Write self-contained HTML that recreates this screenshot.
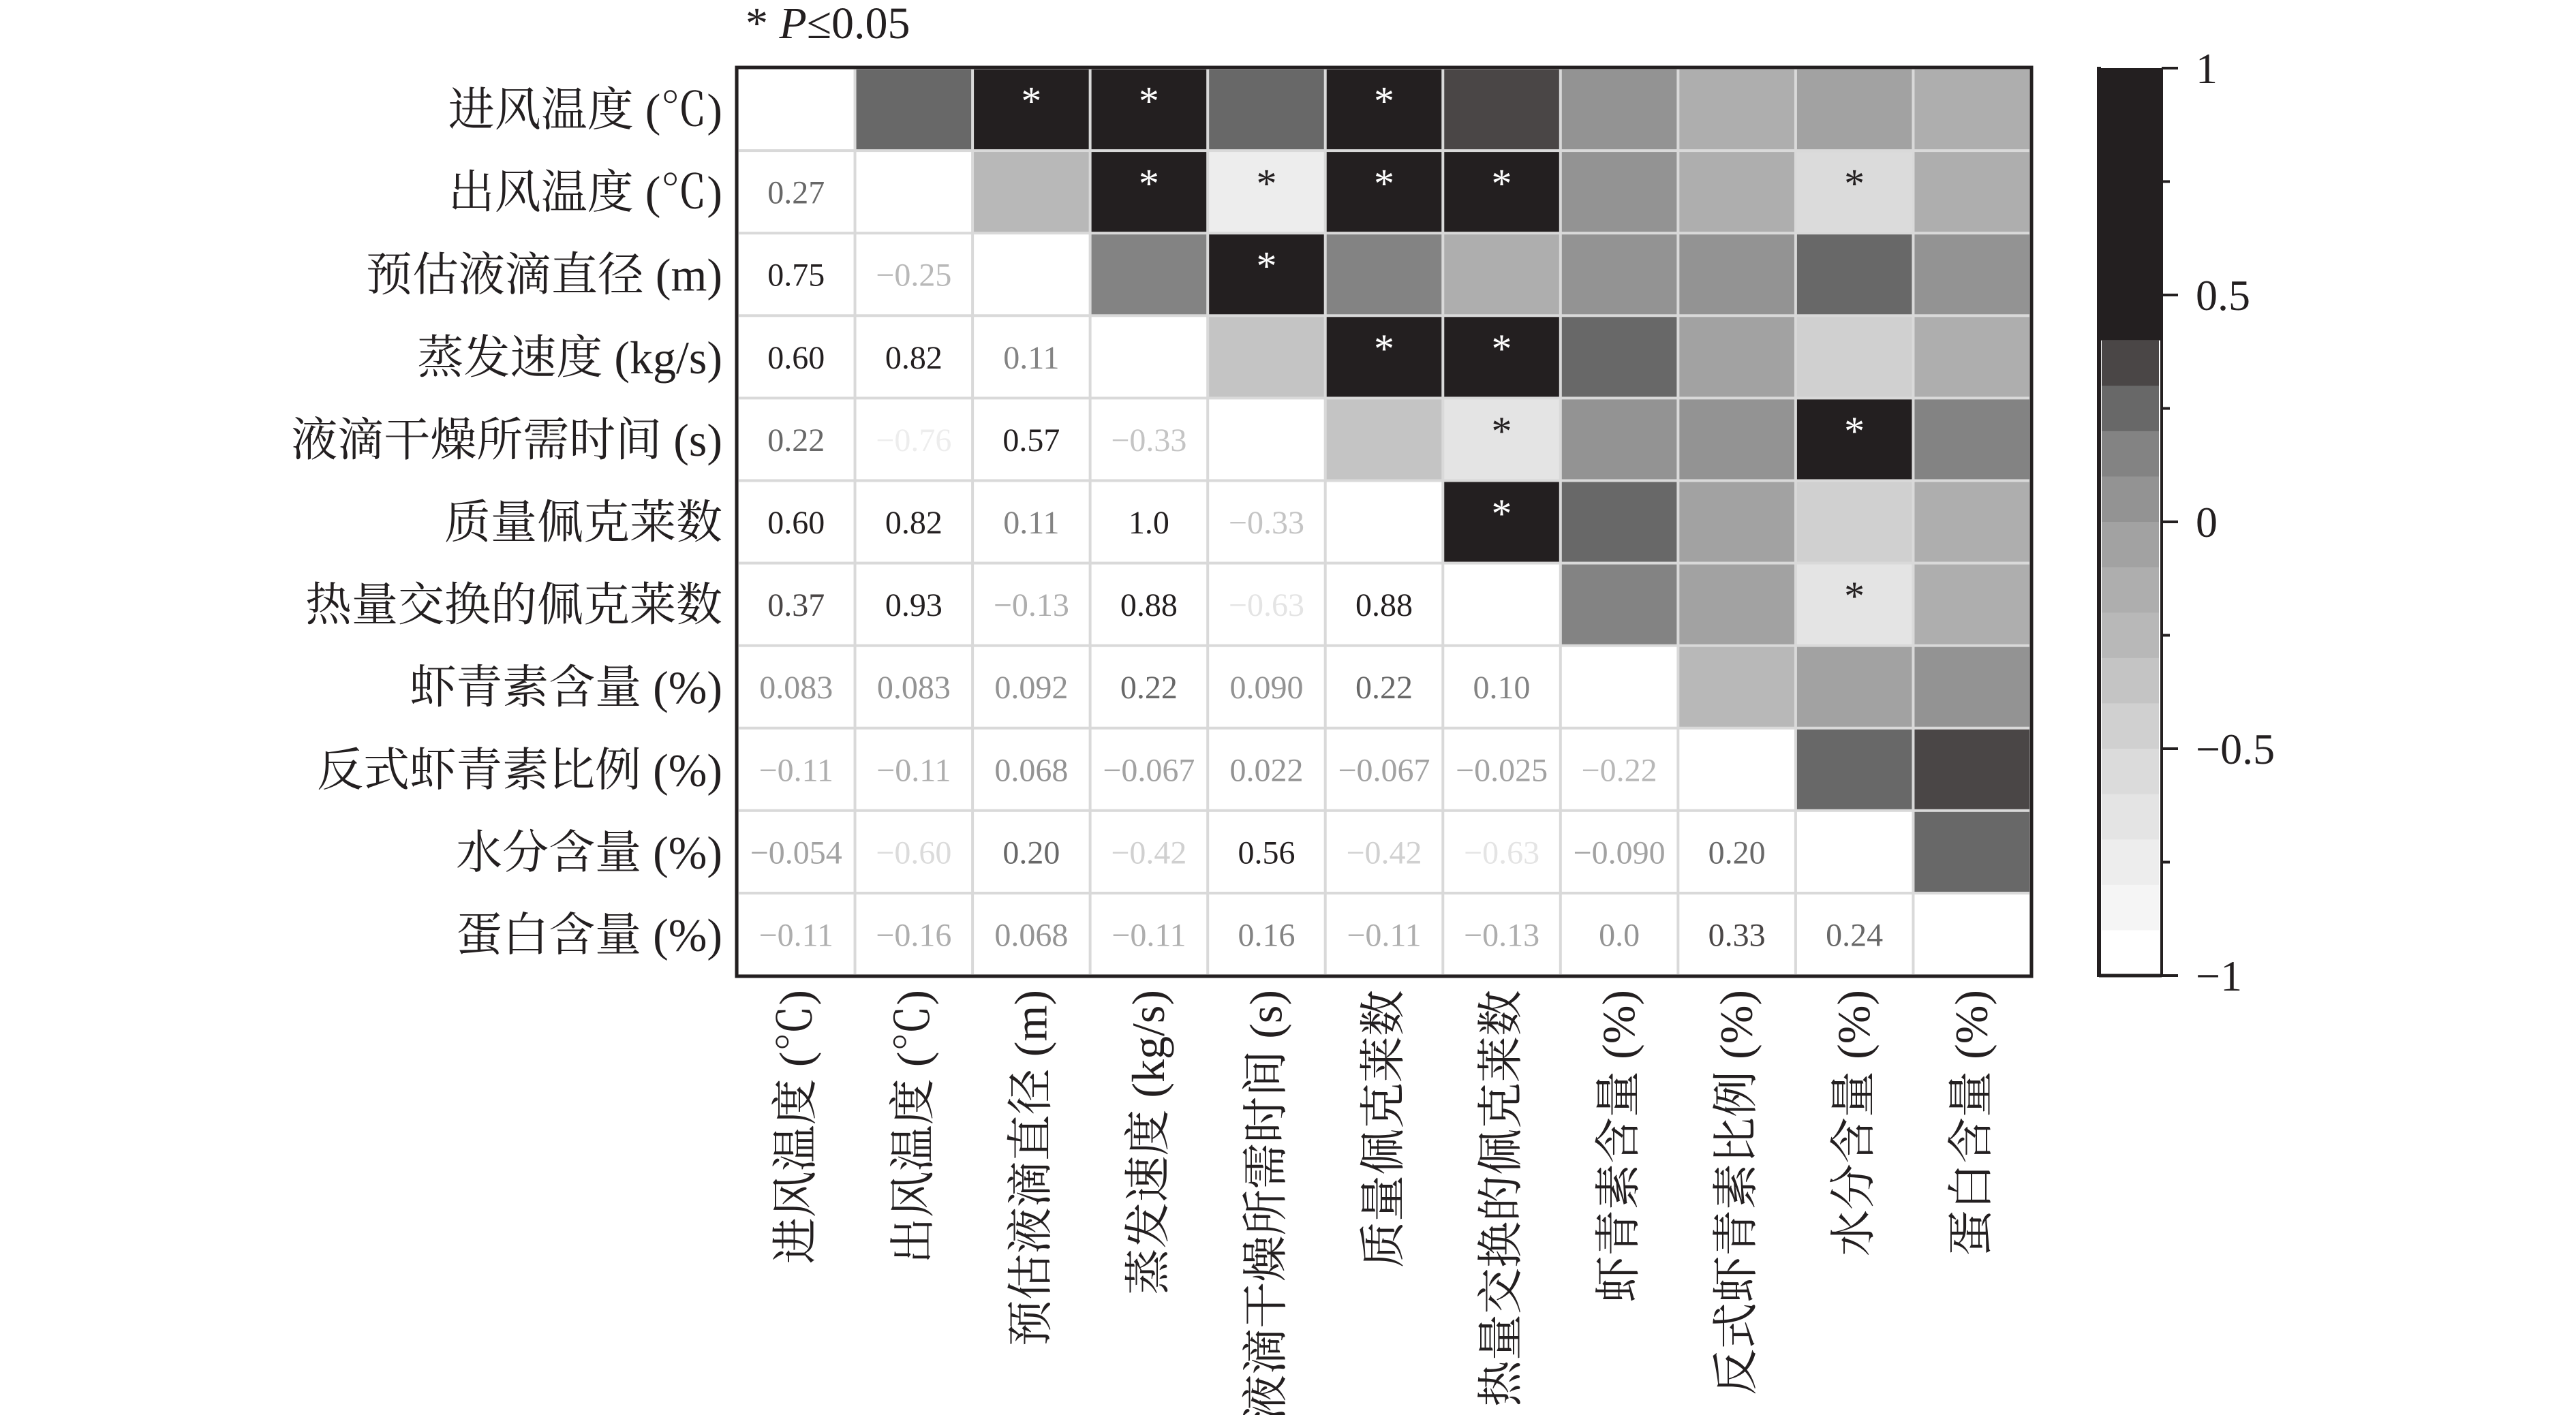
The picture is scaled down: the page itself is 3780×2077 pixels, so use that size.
<!DOCTYPE html>
<html><head><meta charset="utf-8"><style>
html,body{margin:0;padding:0;background:#fff;}
svg{display:block;}
text{font-family:"Liberation Serif","Noto Serif CJK SC",serif;}
</style></head><body>
<svg id="chart" width="3780" height="2077" viewBox="0 0 3780 2077" xmlns="http://www.w3.org/2000/svg">
<text x="1094" y="56" font-size="66" fill="#231f20">* <tspan font-style="italic">P</tspan>≤0.05</text>
<g id="cells"></g>
<g id="labels"></g>
<g id="cbar"></g>
</svg>
<script>
const labels = ["进风温度 (℃)","出风温度 (℃)","预估液滴直径 (m)","蒸发速度 (kg/s)","液滴干燥所需时间 (s)","质量佩克莱数","热量交换的佩克莱数","虾青素含量 (%)","反式虾青素比例 (%)","水分含量 (%)","蛋白含量 (%)"];
const lowerValues = [
  [],
  [0.27],
  [0.75,-0.25],
  [0.60,0.82,0.11],
  [0.22,-0.76,0.57,-0.33],
  [0.60,0.82,0.11,1.0,-0.33],
  [0.37,0.93,-0.13,0.88,-0.63,0.88],
  [0.083,0.083,0.092,0.22,0.090,0.22,0.10],
  [-0.11,-0.11,0.068,-0.067,0.022,-0.067,-0.025,-0.22],
  [-0.054,-0.60,0.20,-0.42,0.56,-0.42,-0.63,-0.090,0.20],
  [-0.11,-0.16,0.068,-0.11,0.16,-0.11,-0.13,0.0,0.33,0.24]
];
const valueText = [
  [],
  ["0.27"],
  ["0.75","−0.25"],
  ["0.60","0.82","0.11"],
  ["0.22","−0.76","0.57","−0.33"],
  ["0.60","0.82","0.11","1.0","−0.33"],
  ["0.37","0.93","−0.13","0.88","−0.63","0.88"],
  ["0.083","0.083","0.092","0.22","0.090","0.22","0.10"],
  ["−0.11","−0.11","0.068","−0.067","0.022","−0.067","−0.025","−0.22"],
  ["−0.054","−0.60","0.20","−0.42","0.56","−0.42","−0.63","−0.090","0.20"],
  ["−0.11","−0.16","0.068","−0.11","0.16","−0.11","−0.13","0.0","0.33","0.24"]
];
const sigPairs = [[0,2],[0,3],[0,5],[1,3],[1,4],[1,5],[1,6],[1,9],[2,4],[3,5],[3,6],[4,6],[4,9],[5,6],[6,9]];
const cbarTicks = [1,0.5,0,-0.5,-1];
const cbarTickText = ["1","0.5","0","−0.5","−1"];

const NS="http://www.w3.org/2000/svg";
const n = labels.length;
const X0=1082, X1=2980, Y0=100, Y1=1432;
const cw=(X1-X0)/n, ch=(Y1-Y0)/n;
const xPos=j=>X0+j*cw, yPos=i=>Y0+i*ch;
const BLACK="#231f20";
const grays=["#4a4646","#686868","#838383","#939393","#a2a2a2","#aeaeae","#b8b8b8","#c4c4c4","#d0d0d0","#dbdbdb","#e4e4e4","#ededed","#f5f5f5","#ffffff"];
function color(v){
  let k=Math.ceil(Math.round((0.4-v)*1e6)/1e5)-1;
  if(k<0) return BLACK;
  if(k>13) k=13;
  return grays[k];
}
function mk(tag,attrs,parent){const e=document.createElementNS(NS,tag);for(const a in attrs)e.setAttribute(a,attrs[a]);parent.appendChild(e);return e;}
const gC=document.getElementById('cells'), gL=document.getElementById('labels'), gB=document.getElementById('cbar');
const sig=new Set(sigPairs.map(p=>p[0]+','+p[1]));
const bg=mk('rect',{x:X0,y:Y0,width:X1-X0,height:Y1-Y0,fill:'#d9d9d9'},gC);


for(let i=0;i<n;i++){for(let j=0;j<n;j++){
  let fill='#ffffff';
  if(j>i) fill=color(lowerValues[j][i]);
  const r=mk('rect',{x:xPos(j)+2,y:yPos(i)+2,width:cw-4,height:ch-4,fill:fill},gC);
  
  
  if(j<i){
    const v=lowerValues[i][j];
    const t=mk('text',{x:xPos(j)+cw/2,y:yPos(i)+ch/2+17,'font-size':48,'text-anchor':'middle',fill:color(v)},gC);
    t.textContent=valueText[i][j];
    
    
  }
  if(j>i && sig.has(i+','+j)){
    const fc=color(lowerValues[j][i])===BLACK?'#ffffff':'#231f20';
    const s=mk('text',{x:xPos(j)+cw/2,y:yPos(i)+ch/2+8,'font-size':60,'text-anchor':'middle',fill:fc},gC);
    s.textContent='*';
    
    
  }
}}
const fr=mk('rect',{x:X0-1,y:Y0-1,width:X1-X0+2,height:Y1-Y0+2,fill:'none',stroke:'#231f20','stroke-width':5},gC);


for(let i=0;i<n;i++){
  const t=mk('text',{x:1060,y:yPos(i)+ch/2+24,'font-size':68,'text-anchor':'end',fill:'#231f20'},gL);
  t.textContent=labels[i];
  
  
  const cx=xPos(i)+cw/2+22;
  const c=mk('text',{x:cx,y:1453,'font-size':68,'text-anchor':'end',fill:'#231f20',transform:`rotate(-90 ${cx} 1453)`},gL);
  c.textContent=labels[i];
  
  
}
const CX0=3080, CX1=3172;
const cy=v=>Y0+(1-v)/2*(Y1-Y0);
const blk=mk('rect',{x:CX0,y:cy(1),width:CX1-CX0,height:cy(0.4)-cy(1),fill:BLACK},gB);


for(let k=0;k<14;k++){
  const hi=0.4-k*0.1, lo=Math.max(-1,hi-0.1);
  const r=mk('rect',{x:CX0+4,y:cy(hi),width:CX1-CX0-8,height:cy(lo)-cy(hi)+0.5,fill:grays[k]},gB);
  
  
}
const l1=mk('line',{x1:CX0,y1:Y0-2,x2:CX0,y2:Y1+2,stroke:'#231f20','stroke-width':6},gB);


const l2=mk('line',{x1:CX1,y1:Y0,x2:CX1,y2:Y1,stroke:'#231f20','stroke-width':4},gB);


const l3=mk('line',{x1:CX0,y1:Y1,x2:CX1,y2:Y1,stroke:'#231f20','stroke-width':5},gB);


for(let v=-0.75;v<1;v+=0.5){
  const m=mk('line',{x1:CX1,y1:cy(v),x2:CX1+12,y2:cy(v),stroke:'#231f20','stroke-width':4},gB);
  
  
}
cbarTicks.forEach((v,i)=>{
  const tk=mk('line',{x1:CX1,y1:cy(v),x2:CX1+24,y2:cy(v),stroke:'#231f20','stroke-width':4},gB);
  
  
  const t=mk('text',{x:3222,y:cy(v)+22,'font-size':64,fill:'#231f20'},gB);
  t.textContent=cbarTickText[i];
  
  
});
</script>
</body></html>
